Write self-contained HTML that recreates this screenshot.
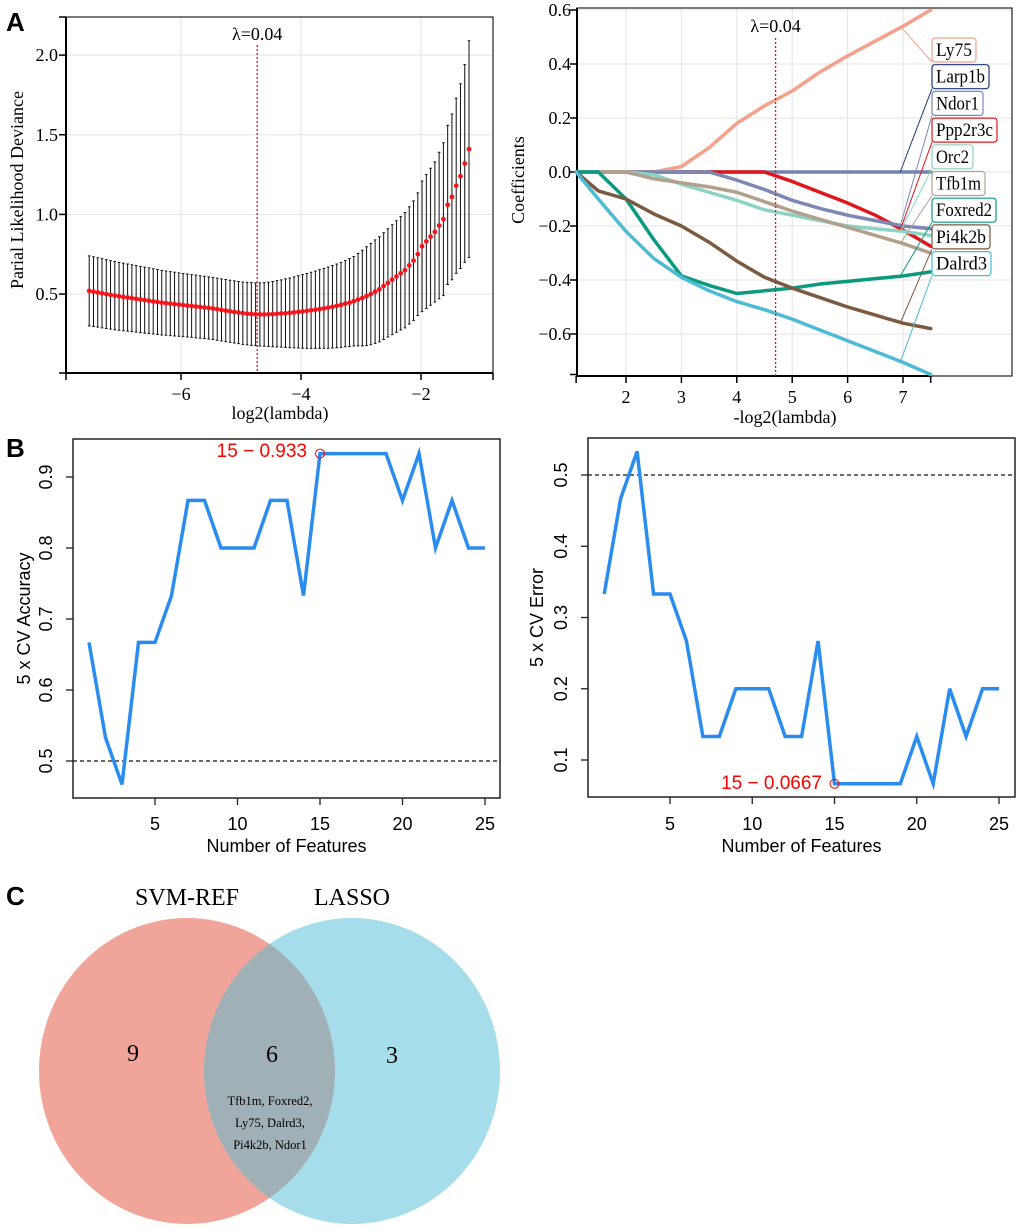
<!DOCTYPE html>
<html><head><meta charset="utf-8"><style>
body{margin:0;background:#fff}
svg{display:block}
.serif{font-family:"Liberation Serif",serif}
.sans{font-family:"Liberation Sans",sans-serif}
</style></head><body>
<svg id="fig" width="1020" height="1229" viewBox="0 0 1020 1229" xmlns="http://www.w3.org/2000/svg">
<text x="6" y="31" class="sans" font-size="26" font-weight="bold">A</text>
<text x="6" y="457" class="sans" font-size="26" font-weight="bold">B</text>
<text x="6" y="905" class="sans" font-size="26" font-weight="bold">C</text>
<g id="a1"></g>
<g id="a2"></g>
<g id="b1"></g>
<g id="b2"></g>
<g id="venn">
  <defs><clipPath id="clipL"><ellipse cx="187" cy="1071" rx="148" ry="153"/></clipPath></defs>
  <ellipse cx="187" cy="1071" rx="148" ry="153" fill="#F1A59A"/>
  <ellipse cx="352" cy="1071" rx="148" ry="153" fill="#A6DDEA"/>
  <ellipse cx="352" cy="1071" rx="148" ry="153" fill="#A0B0B6" clip-path="url(#clipL)"/>
  <text x="187" y="905" text-anchor="middle" class="serif" font-size="24">SVM-REF</text>
  <text x="352" y="905" text-anchor="middle" class="serif" font-size="24">LASSO</text>
  <text x="133" y="1061" text-anchor="middle" class="serif" font-size="24">9</text>
  <text x="272" y="1062" text-anchor="middle" class="serif" font-size="24">6</text>
  <text x="392" y="1063" text-anchor="middle" class="serif" font-size="24">3</text>
  <text x="270" y="1105" text-anchor="middle" class="serif" font-size="12.5">Tfb1m, Foxred2,</text>
  <text x="270" y="1127" text-anchor="middle" class="serif" font-size="12.5">Ly75, Dalrd3,</text>
  <text x="270" y="1149" text-anchor="middle" class="serif" font-size="12.5">Pi4k2b, Ndor1</text>
</g>
</svg>
<script>
// ---------- Panel A left data ----------
const devStart = -7.53, devEnd = -1.2;
const devMean = [0.520,0.515,0.510,0.505,0.500,0.495,0.490,0.486,0.482,0.478,
0.474,0.470,0.466,0.462,0.458,0.454,0.450,0.446,0.443,0.440,
0.437,0.434,0.431,0.428,0.425,0.422,0.419,0.416,0.413,0.410,
0.405,0.400,0.396,0.392,0.388,0.384,0.380,0.377,0.375,0.373,0.372,
0.372,0.373,0.374,0.376,0.378,0.380,0.382,0.385,0.388,0.391,
0.394,0.398,0.402,0.406,0.410,0.415,0.420,0.426,0.432,0.440,
0.446,0.455,0.465,0.475,0.487,0.50,0.515,0.53,0.55,0.57,
0.59,0.61,0.63,0.65,0.68,0.71,0.75,0.80,0.83,0.86,
0.89,0.93,0.97,1.06,1.11,1.18,1.24,1.32,1.41];
const devSE = [.220,.219,.218,.217,.216,.215,.214,.213,.212,.211,
.210,.209,.208,.207,.206,.205,.204,.203,.202,.201,
.200,.199,.198,.198,.197,.197,.196,.196,.195,.195,
.195,.195,.195,.195,.195,.195,.196,.196,.197,.197,.198,
.200,.202,.205,.208,.211,.215,.219,.223,.227,.231,
.235,.239,.243,.247,.251,.255,.259,.263,.267,.271,
.276,.281,.290,.300,.310,.318,.325,.330,.335,.340,
.345,.350,.356,.362,.368,.375,.385,.41,.42,.43,
.44,.46,.48,.50,.52,.55,.58,.62,.68];
const devXTicks = [-6,-4,-2];
const devYTicks = [0.5,1.0,1.5,2.0];
const lambdaMinLog = -4.73;

// ---------- Panel A right data ----------
const pathX = [1.1,1.5,2,2.5,3,3.5,4,4.5,5,5.5,6,6.5,7,7.5];
const genes = ["Larp1b","Ppp2r3c","Ly75","Ndor1","Orc2","Tfb1m","Foxred2","Pi4k2b","Dalrd3"];
const coefLarp1b = [0,0,0,0,0,0,0,0,0,0,0,0,0,0];
const coefLy75 = [0,0,0,0,0.02,0.09,0.18,0.245,0.30,0.37,0.43,0.485,0.54,0.60];
const coefNdor1 = [0,0,0,0,0,0,-0.03,-0.065,-0.105,-0.135,-0.16,-0.18,-0.2,-0.21];
const coefOrc2 = [0,0,0,-0.01,-0.045,-0.075,-0.105,-0.14,-0.16,-0.18,-0.2,-0.21,-0.22,-0.235];
const coefTfb1m = [0,0,0,-0.025,-0.04,-0.055,-0.075,-0.11,-0.145,-0.175,-0.205,-0.235,-0.265,-0.3];
const coefPpp2r3c = [0,0,0,0,0,0,0,0,-0.035,-0.075,-0.115,-0.16,-0.215,-0.275];
const coefFoxred2 = [0,0,-0.1,-0.25,-0.385,-0.42,-0.45,-0.44,-0.43,-0.415,-0.405,-0.395,-0.385,-0.37];
const coefPi4k2b = [0,-0.07,-0.1,-0.155,-0.2,-0.26,-0.33,-0.39,-0.43,-0.465,-0.5,-0.53,-0.56,-0.58];
const coefDalrd3 = [0,-0.1,-0.22,-0.32,-0.39,-0.44,-0.48,-0.51,-0.545,-0.585,-0.625,-0.665,-0.705,-0.75];
const labelOrder = ["Ly75","Larp1b","Ndor1","Ppp2r3c","Orc2","Tfb1m","Foxred2","Pi4k2b","Dalrd3"];
const pathXTicks = [2,3,4,5,6,7];
const pathYTicks = [-0.6,-0.4,-0.2,0.0,0.2,0.4,0.6];
const pathYTickLabels = ["\u22120.6","\u22120.4","\u22120.2","0.0","0.2","0.4","0.6"];

// ---------- Panel B data ----------
const nFeatures = [1,2,3,4,5,6,7,8,9,10,11,12,13,14,15,16,17,18,19,20,21,22,23,24,25];
const cvAccuracy = [0.667,0.533,0.467,0.667,0.667,0.733,0.867,0.867,0.8,0.8,0.8,0.867,0.867,0.733,0.933,0.933,0.933,0.933,0.933,0.867,0.933,0.8,0.867,0.8,0.8];
const cvError = [0.333,0.467,0.533,0.333,0.333,0.267,0.133,0.133,0.2,0.2,0.2,0.133,0.133,0.267,0.0667,0.0667,0.0667,0.0667,0.0667,0.133,0.0667,0.2,0.133,0.2,0.2];
const featXTicks = [5,10,15,20,25];
const accYTicks = [0.5,0.6,0.7,0.8,0.9];
const errYTicks = [0.1,0.2,0.3,0.4,0.5];

const NS = "http://www.w3.org/2000/svg";
function mk(parent, tag, attrs, text){
  const e = document.createElementNS(NS, tag);
  for (const k in attrs) e.setAttribute(k, attrs[k]);
  if (text !== undefined) e.textContent = text;
  parent.appendChild(e);
  return e;
}
const colors = {Larp1b:"#1F3A7A",Ly75:"#F4A08A",Ndor1:"#7C87B5",Orc2:"#8DD3C3",Tfb1m:"#B3A08C",Ppp2r3c:"#E0161C",Foxred2:"#0A9A80",Pi4k2b:"#7A5A40",Dalrd3:"#4DBBD5"};
const lineColors = Object.assign({}, colors, {Larp1b:"#7482B3"});
const coefMap = {Larp1b:coefLarp1b,Ly75:coefLy75,Ndor1:coefNdor1,Orc2:coefOrc2,Tfb1m:coefTfb1m,Ppp2r3c:coefPpp2r3c,Foxred2:coefFoxred2,Pi4k2b:coefPi4k2b,Dalrd3:coefDalrd3};

// ===== Panel A left =====
(function(){
  const g = document.getElementById('a1');
  const L=66,R=493,T=17,B=373;
  const xs = v => 181 + (v + 6) * 60;
  const ys = v => 373.7 - v * 159.3;
  devXTicks.forEach(t=>{ const l=mk(g,'line',{x1:xs(t),x2:xs(t),y1:T,y2:B,stroke:'#e3e3e3','stroke-width':1});
      });
  devYTicks.forEach(t=>{ const l=mk(g,'line',{x1:L,x2:R,y1:ys(t),y2:ys(t),stroke:'#e3e3e3','stroke-width':1});
      });
  const bx=mk(g,'rect',{x:L,y:T,width:R-L,height:B-T,fill:'none',stroke:'#222','stroke-width':1.2});
   
  mk(g,'line',{x1:L,x2:L,y1:T,y2:B,stroke:'#000','stroke-width':2});
  mk(g,'line',{x1:L,x2:R,y1:B,y2:B,stroke:'#000','stroke-width':2});
  [T].concat(devYTicks.map(ys)).concat([B]).forEach(y=>mk(g,'line',{x1:L-7,x2:L,y1:y,y2:y,stroke:'#000','stroke-width':1.5}));
  [L].concat(devXTicks.map(xs)).concat([R]).forEach(x=>mk(g,'line',{x1:x,x2:x,y1:B,y2:B+7,stroke:'#000','stroke-width':1.5}));
  devYTicks.forEach(t=>{ const e=mk(g,'text',{x:58,y:ys(t)+6,'text-anchor':'end','font-size':18,class:'serif'},t.toFixed(1));
      });
  devXTicks.forEach(t=>{ const e=mk(g,'text',{x:xs(t),y:400,'text-anchor':'middle','font-size':18,class:'serif'},'\u2212'+Math.abs(t));
      });
  const xt=mk(g,'text',{x:280,y:419,'text-anchor':'middle','font-size':18,class:'serif'},'log2(lambda)');
   
  const yt=mk(g,'text',{x:0,y:0,transform:'translate(23,190) rotate(-90)','text-anchor':'middle','font-size':18,class:'serif'},'Parial Likelihood Deviance');
   
  const n = devMean.length;
  for(let i=0;i<n;i++){
    const xv = devStart + (devEnd-devStart)*i/(n-1);
    const x = xs(xv), hi=ys(devMean[i]+devSE[i]), lo=ys(devMean[i]-devSE[i]);
    const eb=mk(g,'path',{d:`M${x},${hi}V${lo}M${x-1.3},${hi}H${x+1.3}M${x-1.3},${lo}H${x+1.3}`,stroke:'#111','stroke-width':1,fill:'none'});
     
  }
  for(let i=0;i<n;i++){
    const xv = devStart + (devEnd-devStart)*i/(n-1);
    const c=mk(g,'circle',{cx:xs(xv),cy:ys(devMean[i]),r:2.4,fill:'#F5141B'});
     
  }
  const vl=mk(g,'line',{x1:xs(lambdaMinLog),x2:xs(lambdaMinLog),y1:45,y2:B,stroke:'#E0161C','stroke-width':1.3,'stroke-dasharray':'2,2'});
   
  const lt=mk(g,'text',{x:xs(lambdaMinLog),y:40,'text-anchor':'middle','font-size':18,class:'serif'},'\u03bb=0.04');
   
})();

// ===== Panel A right =====
(function(){
  const g = document.getElementById('a2');
  const L=577,R=1012,T=8,B=376;
  const xs = v => 626 + (v-2)*55.4;
  const ys = v => 172 - v*270;
  pathXTicks.forEach(t=>{ const l=mk(g,'line',{x1:xs(t),x2:xs(t),y1:T,y2:B,stroke:'#e3e3e3','stroke-width':1});
      });
  pathYTicks.forEach(t=>{ const l=mk(g,'line',{x1:L,x2:R,y1:ys(t),y2:ys(t),stroke:'#e3e3e3','stroke-width':1});
      });
  const bx=mk(g,'rect',{x:L,y:T,width:R-L,height:B-T,fill:'none',stroke:'#222','stroke-width':1.2});
   
  mk(g,'line',{x1:L,x2:L,y1:T,y2:B,stroke:'#000','stroke-width':2});
  mk(g,'line',{x1:L,x2:932,y1:B,y2:B,stroke:'#000','stroke-width':2});
  pathYTicks.concat([-0.75]).forEach(t=>mk(g,'line',{x1:L-7,x2:L,y1:ys(t),y2:ys(t),stroke:'#000','stroke-width':1.5}));
  [1.1].concat(pathXTicks).concat([7.5]).forEach(t=>mk(g,'line',{x1:xs(t),x2:xs(t),y1:B,y2:B+7,stroke:'#000','stroke-width':1.5}));
  pathYTicks.forEach((t,i)=>{ const e=mk(g,'text',{x:571,y:ys(t)+6,'text-anchor':'end','font-size':18,class:'serif'},pathYTickLabels[i]);
      });
  pathXTicks.forEach(t=>{ const e=mk(g,'text',{x:xs(t),y:403,'text-anchor':'middle','font-size':18,class:'serif'},String(t));
      });
  const xt=mk(g,'text',{x:785,y:423,'text-anchor':'middle','font-size':18,class:'serif'},'-log2(lambda)');
   
  const yt=mk(g,'text',{x:0,y:0,transform:'translate(524,180) rotate(-90)','text-anchor':'middle','font-size':18,class:'serif'},'Coefficients');
   
  genes.forEach(gn=>{
    const vals = coefMap[gn];
    const pts = pathX.map((x,i)=>xs(x)+','+ys(vals[i])).join(' ');
    const pl=mk(g,'polyline',{points:pts,fill:'none',stroke:lineColors[gn],'stroke-width':3.5,'stroke-linejoin':'round','stroke-linecap':'round'});
     
  });
  const vl=mk(g,'line',{x1:xs(4.7),x2:xs(4.7),y1:38,y2:B,stroke:'#E0161C','stroke-width':1.3,'stroke-dasharray':'2,2'});
   
  const lt=mk(g,'text',{x:xs(4.7),y:32,'text-anchor':'middle','font-size':18,class:'serif'},'\u03bb=0.04');
   
  const widths = {Ly75:44,Larp1b:57,Ndor1:51,Ppp2r3c:65,Orc2:41,Tfb1m:53,Foxred2:64,Pi4k2b:58,Dalrd3:59};
  labelOrder.forEach((gn,i)=>{
    const cy = 50 + i*26.7;
    const ld=mk(g,'line',{x1:xs(6.95),y1:ys(coefMap[gn][12]),x2:932,y2:cy+12,stroke:colors[gn],'stroke-width':1});
     
    const r=mk(g,'rect',{x:932,y:cy-12,width:widths[gn],height:24,rx:3,fill:'#fff',stroke:colors[gn],'stroke-width':1.2});
     
    const t=mk(g,'text',{x:936,y:cy+6,'font-size':19,class:'serif',textLength:widths[gn]-8,lengthAdjust:'spacingAndGlyphs'},gn);
     
  });
})();

// ===== Panel B =====
function featPlot(id, L,R,T,B, x5,x25, yA,vA,yB,vB, vals, yTicks, refY, titleX, tickX, title, annText, annX, annY){
  const g=document.getElementById(id);
  const xs = v => x5 + (v-5)*(x25-x5)/20;
  const ys = v => yA + (v-vA)*(yB-yA)/(vB-vA);
  const bx=mk(g,'rect',{x:L,y:T,width:R-L,height:B-T,fill:'none',stroke:'#222','stroke-width':1.5});
   
  featXTicks.forEach(t=>{
    mk(g,'line',{x1:xs(t),x2:xs(t),y1:B,y2:B+7,stroke:'#222','stroke-width':1.3});
    const e=mk(g,'text',{x:xs(t),y:830,'text-anchor':'middle','font-size':18,class:'sans'},String(t));
     
  });
  yTicks.forEach(t=>{
    mk(g,'line',{x1:L-7,x2:L,y1:ys(t),y2:ys(t),stroke:'#222','stroke-width':1.3});
    const e=mk(g,'text',{x:0,y:0,transform:`translate(${tickX},${ys(t)}) rotate(-90)`,'text-anchor':'middle','font-size':18,class:'sans'},String(t));
     
  });
  const xt=mk(g,'text',{x:(L+R)/2,y:852,'text-anchor':'middle','font-size':18,class:'sans'},'Number of Features');
   
  const yt=mk(g,'text',{x:0,y:0,transform:`translate(${titleX},${(T+B)/2}) rotate(-90)`,'text-anchor':'middle','font-size':18,class:'sans'},title);
   
  const rl=mk(g,'line',{x1:L,x2:R,y1:ys(refY),y2:ys(refY),stroke:'#111','stroke-width':1.2,'stroke-dasharray':'4,3'});
   
  const pl=mk(g,'polyline',{points:nFeatures.map((n,i)=>xs(n)+','+ys(vals[i])).join(' '),fill:'none',stroke:'#2B8CF0','stroke-width':3.5,'stroke-linejoin':'miter'});
   
  const c=mk(g,'circle',{cx:xs(nFeatures[14]),cy:ys(vals[14]),r:4.5,fill:'none',stroke:'#F00','stroke-width':1});
   
  const a=mk(g,'text',{x:annX,y:annY,'text-anchor':'end','font-size':19,fill:'#F00',class:'sans'},annText);
   
}
featPlot('b1',73,500,439,798,155,485,477,0.9,761,0.5,cvAccuracy,accYTicks,0.5,30,52,'5 x CV Accuracy','15 \u2212 0.933',307,457);
featPlot('b2',588,1015,438,797,670,999,475,0.5,760,0.1,cvError,errYTicks,0.5,543,567,'5 x CV Error','15 \u2212 0.0667',822,789);
</script>
</body></html>
